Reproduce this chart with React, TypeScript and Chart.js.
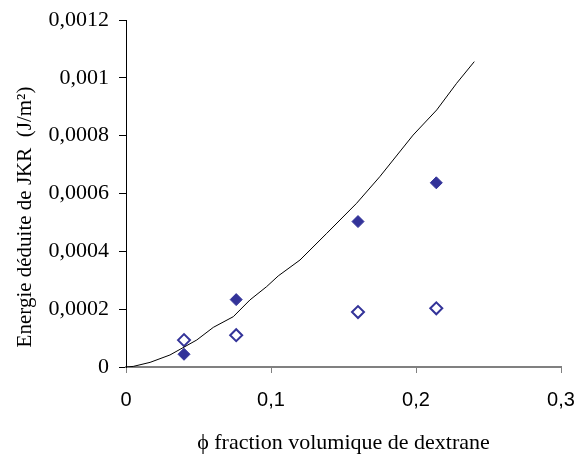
import React, { useEffect, useRef } from "react";
import { Chart, registerables } from "chart.js";

Chart.register(...registerables);

// Data
const filledX = [0.04, 0.076, 0.16, 0.214];
const filledY = [0.000044, 0.000233, 0.000503, 0.000637];
const openX = [0.04, 0.076, 0.16, 0.214];
const openY = [0.000093, 0.00011, 0.00019, 0.000203];
const curveX = [0, 0.005, 0.0166, 0.0303, 0.0488, 0.0602, 0.074, 0.0855, 0.097, 0.105, 0.12, 0.1384, 0.159, 0.175, 0.198, 0.2143, 0.228, 0.2402];
const curveY = [0, 0.000002, 0.000016, 0.0000415, 0.0000934, 0.000137, 0.000174, 0.000232, 0.000278, 0.000315, 0.00037, 0.000462, 0.000566, 0.000658, 0.000802, 0.000889, 0.000981, 0.001056];
const xTickLabels = ["0", "0,1", "0,2", "0,3"];
const yTickLabels = ["0", "0,0002", "0,0004", "0,0006", "0,0008", "0,001", "0,0012"];
const xTitle = "\u03D5 fraction volumique de dextrane";
const yTitle = "Energie d\u00E9duite de JKR  (J/m\u00B2)";

const MARK = "#333399";

const yTitlePlugin = {
  id: "yTitlePlugin",
  afterDraw(chart: any) {
    const ctx = chart.ctx;
    ctx.save();
    ctx.translate(25, 217);
    ctx.rotate(-Math.PI / 2);
    ctx.font = "21px 'Liberation Serif'";
    ctx.fillStyle = "#000";
    ctx.textAlign = "center";
    ctx.textBaseline = "middle";
    ctx.fillText(yTitle, 0, 0);
    ctx.restore();
  },
};

export default function App() {
  const ref = useRef<HTMLCanvasElement>(null);
  useEffect(() => {
    if (!ref.current) return;
    const chart = new Chart(ref.current, {
      type: "scatter",
      data: {
        datasets: [
          {
            type: "line",
            data: curveX.map((x, i) => ({ x, y: curveY[i] })),
            borderColor: "#000",
            borderWidth: 1,
            pointRadius: 0,
            fill: false,
            tension: 0,
          } as any,
          {
            data: filledX.map((x, i) => ({ x, y: filledY[i] })),
            pointStyle: "rectRot",
            pointRadius: 6,
            backgroundColor: MARK,
            borderColor: MARK,
            borderWidth: 1,
          },
          {
            data: openX.map((x, i) => ({ x, y: openY[i] })),
            pointStyle: "rectRot",
            pointRadius: 6,
            backgroundColor: "#fff",
            borderColor: MARK,
            borderWidth: 2,
          },
        ],
      },
      options: {
        animation: false,
        responsive: false,
        layout: { padding: { top: 20, right: 18, left: 0, bottom: 0 } },
        plugins: { legend: { display: false }, tooltip: { enabled: false } },
        scales: {
          x: {
            type: "linear",
            min: 0,
            max: 0.3,
            afterFit: (s: any) => {
              s.height = 87;
              s.paddingLeft = 0;
              s.paddingRight = 0;
            },
            ticks: {
              stepSize: 0.1,
              color: "#000",
              padding: 15,
              font: { family: "'Liberation Sans'", size: 20 },
              callback: (_v: any, i: number) => xTickLabels[i],
            },
            grid: {
              display: true,
              drawOnChartArea: false,
              drawTicks: true,
              tickLength: 6,
              color: "#808080",
            },
            border: { display: true, color: "#808080", width: 2 },
            title: {
              display: true,
              text: xTitle,
              color: "#000",
              font: { family: "'Liberation Serif'", size: 22 },
              padding: { top: 0, bottom: -2 },
            },
          },
          y: {
            type: "linear",
            min: 0,
            max: 0.0012,
            afterFit: (s: any) => {
              s.width = 126;
              s.paddingTop = 0;
              s.paddingBottom = 0;
            },
            ticks: {
              stepSize: 0.0002,
              color: "#000",
              padding: 10,
              font: { family: "'Liberation Serif'", size: 22 },
              callback: (_v: any, i: number) => yTickLabels[i],
            },
            grid: {
              display: true,
              drawOnChartArea: false,
              drawTicks: true,
              tickLength: 7,
              color: "#000",
            },
            border: { display: true, color: "#000", width: 1 },
          },
        },
      },
      plugins: [yTitlePlugin],
    } as any);
    return () => chart.destroy();
  }, []);
  return (
    <div style={{ position: "absolute", left: 0, top: 0, width: 579, height: 454, background: "#fff" }}>
      <canvas ref={ref} width={579} height={454} />
    </div>
  );
}
